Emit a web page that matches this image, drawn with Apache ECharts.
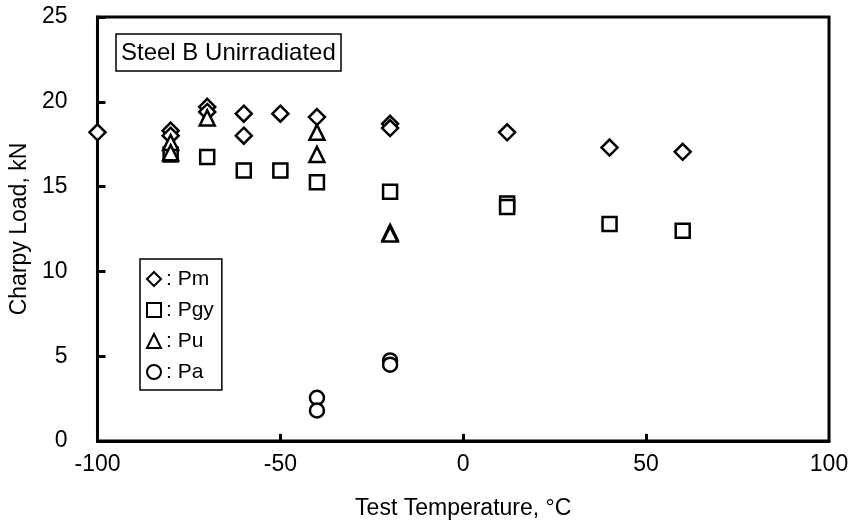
<!DOCTYPE html>
<html>
<head>
<meta charset="utf-8">
<script src="https://cdn.jsdelivr.net/npm/echarts@6/dist/echarts.min.js"></script>
<style>
html,body{margin:0;padding:0;background:#fff;}
#chart{width:852px;height:528px;}
</style>
</head>
<body>
<div id="chart"></div>
<script>
// Data: [temperature °C, load kN]
const pmData = [[-100,18.2],[-80,18.3],[-80,18.0],[-70,19.7],[-70,19.4],[-60,19.3],[-60,18.0],[-50,19.3],[-40,19.1],[-20,18.7],[-20,18.45],[12,18.2],[40,17.3],[60,17.05]];
const pgyData = [[-80,16.9],[-70,16.75],[-60,15.95],[-50,15.95],[-40,15.25],[-20,14.7],[12,14.0],[12,13.8],[40,12.8],[60,12.4]];
const puData = [[-80,17.6],[-80,17.0],[-70,19.05],[-40,18.2],[-40,16.9],[-20,12.3],[-20,12.2]];
const paData = [[-40,2.55],[-40,1.8],[-20,4.75],[-20,4.5]];
const xTicks = [-100,-50,0,50,100];
const yTicks = [0,5,10,15,20,25];

const FONT = 'Liberation Sans, Arial, Helvetica, sans-serif';
const chart = echarts.init(document.getElementById('chart'), null, {renderer:'canvas'});

function mk(name, symbol, size, data){
  return {
    name, type:'scatter', symbol, symbolSize:size, data, clip:false,
    itemStyle:{color:'#fff', borderColor:'#000', borderWidth:2.5, opacity:1},
    emphasis:{disabled:true}
  };
}

// inward x-axis tick marks at the inner ticks, placed through the axis scale
const xTickMarks = {
  silent:true, symbol:['none','none'], label:{show:false},
  lineStyle:{color:'#000', width:3, type:'solid'},
  emphasis:{disabled:true},
  data: xTicks.slice(1,-1).map(v => [{coord:[v,0]},{coord:[v,0.42]}])
};

const series = [
  mk('Pm','diamond',[16,16],pmData),
  mk('Pgy','rect',[14,14],pgyData),
  mk('Pu','triangle',[15,15],puData),
  mk('Pa','circle',[14,14],paData)
];
series[0].markLine = xTickMarks;

chart.setOption({
  animation:false,
  backgroundColor:'#fff',
  title:{
    text:'Steel B Unirradiated', left:116, top:34,
    borderColor:'#000', borderWidth:1.5, padding:[6,5,5,5],
    textStyle:{fontFamily:FONT, fontSize:24, fontWeight:'normal', color:'#000', lineHeight:26}
  },
  legend:{
    orient:'vertical', left:140, top:259,
    borderColor:'#000', borderWidth:1.5, padding:[8,8,6,6],
    itemWidth:14, itemHeight:14, itemGap:7,
    formatter:': {name}',
    textStyle:{fontFamily:FONT, fontSize:21, color:'#000', lineHeight:24},
    selectedMode:false,
    data:['Pm','Pgy','Pu','Pa']
  },
  grid:{left:97, right:23, top:17, bottom:87, show:true, borderColor:'#000', borderWidth:3},
  xAxis:{
    type:'value', min:-100, max:100, interval:50, position:'bottom',
    name:'Test Temperature, °C', nameLocation:'middle', nameGap:56,
    nameTextStyle:{fontFamily:FONT, fontSize:23, color:'#000'},
    axisLine:{show:true, onZero:false, lineStyle:{color:'#000', width:3}},
    axisTick:{show:false},
    axisLabel:{fontFamily:FONT, fontSize:23, color:'#000', margin:12,
      formatter:v=>xTicks.includes(v)?String(v):''},
    splitLine:{show:false}
  },
  yAxis:{
    type:'value', min:0, max:25, interval:5, position:'left',
    name:'Charpy Load, kN', nameLocation:'middle', nameGap:58,
    nameTextStyle:{fontFamily:FONT, fontSize:23, color:'#000'},
    axisLine:{show:true, onZero:false, lineStyle:{color:'#000', width:3}},
    axisTick:{show:true, inside:true, length:8, lineStyle:{color:'#000', width:3}},
    axisLabel:{fontFamily:FONT, fontSize:23, color:'#000', margin:30,
      formatter:v=>yTicks.includes(v)?String(v):''},
    splitLine:{show:false}
  },
  series
});
</script>
</body>
</html>
